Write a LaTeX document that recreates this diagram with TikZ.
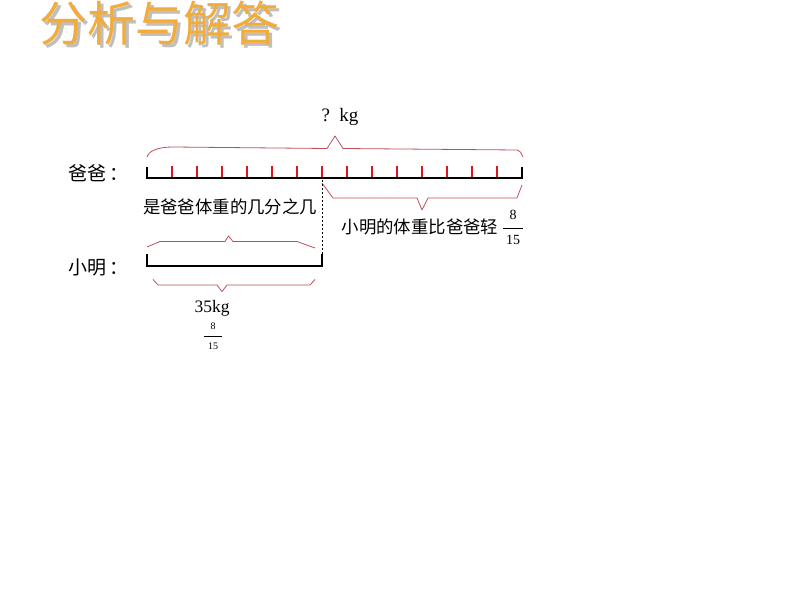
\documentclass[tikz,border=0pt]{standalone}
\usepackage{fontspec}
\setmainfont{Liberation Serif}
\newfontfamily\cjk{Noto Sans CJK SC}
\definecolor{braceRed}{RGB}{190,80,90}
\definecolor{tickRed}{RGB}{222,20,30}
\definecolor{titleOrange}{RGB}{242,172,60}
\begin{document}
\begin{tikzpicture}[x=1pt,y=-1pt,
  brace/.style={draw=braceRed, line width=0.8pt, line join=round},
  bar/.style={draw=black, line width=2pt},
  tickmark/.style={draw=tickRed, line width=1.6pt},
  cn/.style={inner sep=0pt, font=\cjk\fontsize{17.4}{18}\selectfont},
  cnbig/.style={inner sep=0pt, font=\cjk\fontsize{19}{20}\selectfont},
  lat/.style={inner sep=0pt, font=\fontsize{19}{20}\selectfont},
  fr/.style={inner sep=0pt, font=\fontsize{14}{15}\selectfont},
  frs/.style={inner sep=0pt, font=\fontsize{10}{11}\selectfont},
  titlefont/.style={inner sep=0pt, font=\cjk\fontsize{48}{48}\selectfont}]
\useasboundingbox (0,0) rectangle (794,596);
% title with its soft shadow
\node[titlefont, text=black!25] (titleshadow) at (162,26) {分析与解答};
\node[titlefont, text=titleOrange] (title) at (159,23) {分析与解答};
% labels
\node[cnbig, anchor=west] (dadlbl) at (68,173) {爸爸\hspace{3pt}：};
\node[cnbig, anchor=west] (minglbl) at (68,267) {小明\hspace{3pt}：};
% dad bar
\coordinate (dL) at (147,178);
\coordinate (dR) at (522,178);
\foreach \i in {1,...,14} \draw[tickmark] ({147+25*\i},166.5) -- ({147+25*\i},177);
\draw[bar] (147,167) -- (dL) -- (dR) -- (522,167);
% top brace
\draw[brace] (147,157) .. controls (149,150) and (160,147) .. (173,147) -- (327,148.5) -- (335,136) -- (343,148.5) -- (517,150) .. controls (520,151) .. (523,157);
\node[lat] (total) at (340,117) {? \,kg};
% lower right brace
\draw[brace] (322,183) -- (333,198) -- (417,198) -- (422,210) -- (428,198) -- (517,198) -- (522,185);
\node[cn] (q1) at (230,207) {是爸爸体重的几分之几};
\node[cn] (q2) at (420,227) {小明的体重比爸爸轻};
\node[fr] (fnum) at (513,215) {8};
\node[fr] (fden) at (513,240) {15};
\draw[line width=0.6pt] (503,228) -- (523,228);
% dashed divider
\coordinate (divTop) at (322,180);
\coordinate (divBot) at (322,266);
\draw[line width=0.6pt, dash pattern=on 2pt off 2pt] (divTop) -- (divBot);
% xiaoming bar
\coordinate (mL) at (147,266);
\coordinate (mR) at (322,266);
\draw[bar] (147,254) -- (mL) -- (mR) -- (322,254);
\draw[brace] (147,247) -- (160,241.5) -- (225,241.5) -- (228.5,236) -- (233,241.5) -- (297,241.5) -- (315,248);
\draw[brace] (153,279.5) -- (158,285) -- (217,285) -- (222,291.5) -- (227,285) -- (310,285) -- (315,279.5);
\node[inner sep=0pt, font=\fontsize{17.5}{18}\selectfont] (w) at (212,308) {35kg};
\node[frs] (snum) at (213,326) {8};
\node[frs] (sden) at (213,346) {15};
\draw[line width=0.5pt] (204,336) -- (222,336);
\end{tikzpicture}
\end{document}
